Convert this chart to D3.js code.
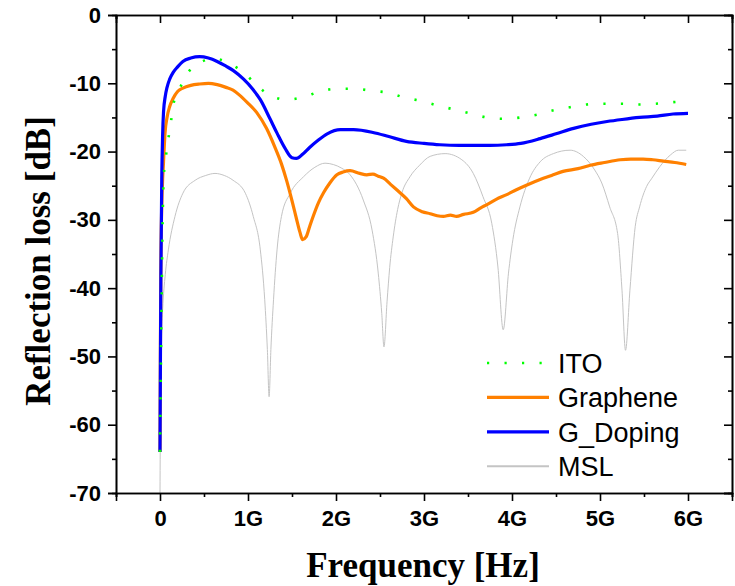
<!DOCTYPE html>
<html>
<head>
<meta charset="utf-8">
<script src="https://cdn.jsdelivr.net/npm/d3@7"></script>
<style>
body{margin:0;background:#fff;}
.tick text{font-family:"Liberation Sans",Arial,sans-serif;font-weight:bold;font-size:22px;fill:#000;}
.axis path,.axis line{stroke:#000;stroke-width:1.6;}
</style>
</head>
<body>
<svg id="chart" width="735" height="586"></svg>
<script>
// frequency in GHz, reflection loss in dB
var itoF=[0,0.01,0.02,0.03,0.0375,0.045,0.068,0.094,0.125,0.15,0.22,0.3,0.435,0.55,0.625,0.7,0.8,0.95,1.1,1.24,1.44,1.63,1.82,2.0,2.2,2.41,2.6,2.78,2.97,3.14,3.33,3.52,3.71,3.91,4.1,4.28,4.46,4.66,4.85,5.03,5.25,5.43,5.63,5.8,5.97];
var itoDb=[-64,-52,-40,-30,-25.6,-23.2,-20.6,-18.2,-15.6,-13.2,-10.9,-8.8,-7.1,-6.5,-6.3,-6.6,-7.2,-8.4,-10.3,-11.7,-12.4,-12.0,-11.2,-10.8,-10.8,-11.1,-11.4,-12.1,-12.6,-13.2,-13.8,-14.4,-15.0,-15.2,-15.0,-14.6,-14.0,-13.5,-13.1,-13.0,-13.0,-13.1,-13.0,-12.8,-12.6];

var grF=[0,0.005,0.01,0.02,0.03,0.04,0.057,0.08,0.11,0.15,0.2,0.26,0.35,0.45,0.55,0.65,0.75,0.83,0.9,0.99,1.1,1.21,1.31,1.38,1.44,1.5,1.55,1.59,1.62,1.66,1.7,1.74,1.8,1.86,1.93,2.01,2.08,2.16,2.27,2.35,2.42,2.48,2.54,2.62,2.69,2.8,2.88,2.98,3.07,3.15,3.22,3.3,3.37,3.45,3.56,3.65,3.71,3.82,3.94,4.05,4.17,4.32,4.45,4.58,4.75,4.89,5.05,5.23,5.35,5.49,5.6,5.72,5.85,5.98];
var grDb=[-64,-48,-36,-28,-24,-21.5,-17.3,-15,-13.4,-12.2,-11.2,-10.7,-10.3,-10.1,-10,-10.2,-10.6,-11,-11.7,-12.8,-14.3,-16.6,-19.5,-21.8,-24.3,-27.2,-29.8,-31.8,-32.9,-32.5,-31,-29.5,-27.5,-26.0,-24.6,-23.4,-23.0,-22.8,-23.2,-23.4,-23.3,-23.6,-23.9,-24.8,-25.6,-26.9,-28.1,-28.8,-29.1,-29.4,-29.5,-29.3,-29.5,-29.2,-28.9,-28.2,-27.8,-27.0,-26.3,-25.6,-24.9,-24.1,-23.5,-22.9,-22.5,-22.0,-21.6,-21.2,-21.1,-21.1,-21.2,-21.4,-21.6,-21.9];

var gdF=[0,0.005,0.01,0.02,0.03,0.04,0.06,0.08,0.11,0.15,0.2,0.26,0.35,0.45,0.55,0.65,0.75,0.83,0.95,1.05,1.14,1.25,1.33,1.42,1.5,1.55,1.62,1.7,1.8,1.9,2.05,2.2,2.42,2.6,2.8,3.0,3.18,3.4,3.56,3.75,3.94,4.1,4.32,4.5,4.7,4.9,5.08,5.25,5.45,5.65,5.83,6.0];
var gdDb=[-64,-50,-38,-24,-17.5,-14.2,-11.9,-10.6,-9.4,-8.4,-7.6,-6.8,-6.3,-6.1,-6.3,-6.8,-7.5,-8.1,-9.4,-10.8,-12.4,-15.2,-17.3,-19.5,-20.9,-21.0,-20.4,-19.4,-18.3,-17.4,-16.8,-16.8,-17.2,-17.8,-18.5,-18.8,-19.0,-19.1,-19.1,-19.1,-19.0,-18.8,-18.1,-17.4,-16.6,-16.0,-15.6,-15.3,-15.0,-14.8,-14.5,-14.4];

var mslF=[0,0.005,0.015,0.03,0.06,0.095,0.17,0.26,0.4,0.52,0.625,0.73,0.83,0.97,1.06,1.14,1.19,1.22,1.24,1.26,1.29,1.33,1.38,1.48,1.63,1.76,1.875,1.97,2.06,2.16,2.31,2.41,2.48,2.52,2.545,2.58,2.61,2.65,2.7,2.75,2.84,2.95,3.07,3.24,3.43,3.56,3.67,3.77,3.84,3.9,3.96,4.01,4.09,4.2,4.32,4.47,4.66,4.81,4.94,5.02,5.11,5.2,5.25,5.29,5.34,5.4,5.45,5.53,5.59,5.68,5.8,5.89,5.98];
var mslDb=[-70,-58,-48,-43.2,-38,-34.4,-29.5,-26.1,-24.2,-23.5,-23.2,-23.5,-24.2,-26.1,-29.5,-34.4,-41.7,-49,-55.9,-49,-41.7,-34.4,-29.5,-26.1,-23.7,-22.3,-21.7,-21.9,-22.4,-23.4,-27.1,-31.5,-37.8,-43.7,-48.6,-42,-37,-32.5,-28.5,-26,-23.7,-22,-20.7,-20.3,-21.2,-23.2,-26.6,-30.5,-36.9,-46.1,-37.8,-32.9,-28.1,-23.9,-21.5,-20.3,-19.8,-20.7,-22.7,-24.6,-28.1,-32,-40.3,-49.1,-40.3,-31,-28.1,-25.1,-23.9,-22.2,-20.5,-19.8,-19.8];

var xTicks=[0,1,2,3,4,5,6];
var xTickLabels=["0","1G","2G","3G","4G","5G","6G"];
var yTicks=[0,-10,-20,-30,-40,-50,-60,-70];

var series=[
  {name:"ITO",f:itoF,db:itoDb,color:"#00ff00",width:2.6,dash:"2.2,15.3"},
  {name:"Graphene",f:grF,db:grDb,color:"#ff8000",width:3.2,dash:null},
  {name:"G_Doping",f:gdF,db:gdDb,color:"#0000ff",width:3.2,dash:null},
  {name:"MSL",f:mslF,db:mslDb,color:"#c4c4c4",width:1,dash:null}
];

var margin={top:15,right:3,bottom:93,left:116},
    width=735-margin.left-margin.right,
    height=586-margin.top-margin.bottom;

var svg=d3.select("#chart");
var g=svg.append("g").attr("transform","translate("+margin.left+","+margin.top+")");

var x=d3.scaleLinear().domain([-0.5,6.5]).range([0,width]);
var y=d3.scaleLinear().domain([-70,0]).range([height,0]);

var xMinor=d3.range(-0.5,6.51,1);
var yMinor=d3.range(-65,0,10);

var line=d3.line().curve(d3.curveMonotoneX)
  .x(function(d){return x(d[0]);})
  .y(function(d){return y(d[1]);});

// MSL first so the thick lines sit above it
[3,1,2,0].forEach(function(i){
  var s=series[i];
  var pts=s.f.map(function(f,k){return [f,s.db[k]];});
  g.append("path").datum(pts)
    .attr("d",line)
    .attr("fill","none")
    .attr("stroke",s.color)
    .attr("stroke-width",s.width)
    .attr("stroke-dasharray",s.dash);
});

// axes: bottom/left ticks out, top/right ticks in
g.append("g").attr("class","axis").attr("transform","translate(0,"+height+")")
  .call(d3.axisBottom(x).tickValues(xTicks).tickSize(8).tickPadding(9)
    .tickFormat(function(d,i){return xTickLabels[i];}));
g.append("g").attr("class","axis").attr("transform","translate(0,"+height+")")
  .call(d3.axisBottom(x).tickValues(xMinor).tickSize(4).tickFormat(""));
g.append("g").attr("class","axis")
  .call(d3.axisTop(x).tickValues(xTicks).tickSize(-8).tickFormat(""));
g.append("g").attr("class","axis")
  .call(d3.axisTop(x).tickValues(xMinor).tickSize(-4).tickFormat(""));

g.append("g").attr("class","axis")
  .call(d3.axisLeft(y).tickValues(yTicks).tickSize(8).tickPadding(7)
    .tickFormat(function(d){return String(d);}));
g.append("g").attr("class","axis")
  .call(d3.axisLeft(y).tickValues(yMinor).tickSize(4).tickFormat(""));
g.append("g").attr("class","axis").attr("transform","translate("+width+",0)")
  .call(d3.axisRight(y).tickValues(yTicks).tickSize(-8).tickFormat(""));
g.append("g").attr("class","axis").attr("transform","translate("+width+",0)")
  .call(d3.axisRight(y).tickValues(yMinor).tickSize(-4).tickFormat(""));

g.selectAll(".axis path.domain").attr("stroke-width",1.8);

// axis titles
svg.append("text")
  .attr("x",423).attr("y",577)
  .attr("text-anchor","middle")
  .style("font-family","'Liberation Serif','Times New Roman',serif")
  .style("font-weight","bold").style("font-size","35px")
  .text("Frequency [Hz]");
svg.append("text")
  .attr("transform","translate(50,261) rotate(-90)")
  .attr("text-anchor","middle")
  .style("font-family","'Liberation Serif','Times New Roman',serif")
  .style("font-weight","bold").style("font-size","35px")
  .text("Reflection loss [dB]");

// legend
var legend=svg.append("g").attr("transform","translate(487,363)");
series.forEach(function(s,i){
  var row=legend.append("g").attr("transform","translate(0,"+(i*34.4)+")");
  row.append("line").attr("x1",0).attr("x2",62).attr("y1",0).attr("y2",0)
    .attr("stroke",s.color).attr("stroke-width",s.name=="MSL"?2:s.width)
    .attr("stroke-dasharray",s.dash);
  row.append("text").attr("x",71).attr("y",0).attr("dy","0.36em")
    .style("font-family","'Liberation Sans',Arial,sans-serif")
    .style("font-size","27px")
    .text(s.name);
});
</script>
</body>
</html>
